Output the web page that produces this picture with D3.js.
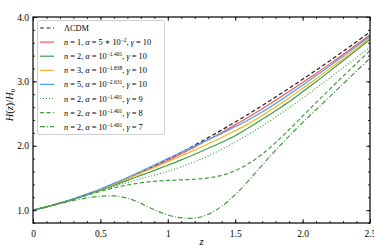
<!DOCTYPE html>
<html>
<head>
<meta charset="utf-8">
<script src="https://cdn.jsdelivr.net/npm/d3@7"></script>
<style>
  body { margin: 0; background: #fff; }
  svg { display: block; font-family: "Liberation Serif", "DejaVu Serif", serif; }
</style>
</head>
<body>
<div id="chart"></div>
<script>
// redshift grid shared by every curve
var zs = [0, 0.1, 0.2, 0.3, 0.4, 0.5, 0.6, 0.7, 0.8, 0.9, 1.0, 1.1, 1.2,
          1.3, 1.4, 1.5, 1.6, 1.7, 1.8, 1.9, 2.0, 2.1, 2.2, 2.3, 2.4, 2.5];

// H(z)/H0
var lcdm   = [1.000, 1.051, 1.109, 1.173, 1.245, 1.322, 1.405, 1.494, 1.588, 1.687, 1.790, 1.898, 2.010,
              2.126, 2.245, 2.368, 2.494, 2.624, 2.757, 2.893, 3.032, 3.173, 3.318, 3.465, 3.615, 3.767];
var n1g10  = [1.000, 1.051, 1.109, 1.173, 1.244, 1.320, 1.400, 1.487, 1.578, 1.673, 1.772, 1.876, 1.982,
              2.093, 2.206, 2.324, 2.446, 2.575, 2.707, 2.843, 2.982, 3.124, 3.268, 3.417, 3.570, 3.722];
var n2g10  = [1.000, 1.050, 1.107, 1.169, 1.237, 1.310, 1.385, 1.462, 1.540, 1.617, 1.697, 1.780, 1.868,
              1.960, 2.055, 2.155, 2.280, 2.410, 2.545, 2.685, 2.838, 2.995, 3.155, 3.320, 3.485, 3.650];
var n3g10  = [1.000, 1.051, 1.109, 1.172, 1.243, 1.320, 1.403, 1.488, 1.576, 1.663, 1.752, 1.843, 1.935,
              2.030, 2.128, 2.232, 2.344, 2.470, 2.605, 2.743, 2.890, 3.040, 3.195, 3.350, 3.510, 3.675];
var n5g10  = [1.000, 1.052, 1.111, 1.176, 1.249, 1.329, 1.415, 1.507, 1.603, 1.700, 1.800, 1.900, 1.995,
              2.095, 2.190, 2.295, 2.405, 2.525, 2.657, 2.796, 2.940, 3.088, 3.238, 3.391, 3.545, 3.702];
var n2g9   = [1.000, 1.051, 1.108, 1.170, 1.238, 1.305, 1.368, 1.428, 1.486, 1.544, 1.604, 1.672, 1.752,
              1.843, 1.945, 2.057, 2.178, 2.308, 2.446, 2.590, 2.740, 2.893, 3.050, 3.210, 3.370, 3.530];
var n2g8   = [1.000, 1.051, 1.108, 1.168, 1.232, 1.292, 1.345, 1.390, 1.424, 1.447, 1.461, 1.470, 1.480,
              1.500, 1.540, 1.612, 1.725, 1.870, 2.050, 2.250, 2.460, 2.670, 2.875, 3.080, 3.280, 3.480];
var n2g7   = [1.000, 1.050, 1.102, 1.150, 1.190, 1.215, 1.220, 1.185, 1.105, 1.005, 0.925, 0.880, 0.875,
              0.935, 1.060, 1.240, 1.460, 1.700, 1.930, 2.150, 2.360, 2.560, 2.760, 2.960, 3.160, 3.360];

var xTicks = [0, 0.5, 1, 1.5, 2.0, 2.5];
var xTickLabels = ["0", "0.5", "1", "1.5", "2.0", "2.5"];
var yTicks = [1.0, 2.0, 3.0, 4.0];
var yTickLabels = ["1.0", "2.0", "3.0", "4.0"];

// legend label pieces: [text, italic?, superscript?]
var series = [
  {values: lcdm,  color: "#222", dash: "4,2.5",
   label: [["ΛCDM", false, false]]},
  {values: n1g10, color: "#ff5252", dash: null,
   label: [["n", true], [" = 1, ", false], ["α", true], [" = 5 ∗ 10", false], ["−2", false, true], [", ", false], ["γ", true], [" = 10", false]]},
  {values: n2g10, color: "#3e9e3e", dash: null,
   label: [["n", true], [" = 2, ", false], ["α", true], [" = 10", false], ["−1.401", false, true], [", ", false], ["γ", true], [" = 10", false]]},
  {values: n3g10, color: "#ffb020", dash: null,
   label: [["n", true], [" = 3, ", false], ["α", true], [" = 10", false], ["−1.838", false, true], [", ", false], ["γ", true], [" = 10", false]]},
  {values: n5g10, color: "#46a0ff", dash: null,
   label: [["n", true], [" = 5, ", false], ["α", true], [" = 10", false], ["−2.631", false, true], [", ", false], ["γ", true], [" = 10", false]]},
  {values: n2g9,  color: "#3e9e3e", dash: "1,2",
   label: [["n", true], [" = 2, ", false], ["α", true], [" = 10", false], ["−1.401", false, true], [", ", false], ["γ", true], [" = 9", false]]},
  {values: n2g8,  color: "#3e9e3e", dash: "4,2.5",
   label: [["n", true], [" = 2, ", false], ["α", true], [" = 10", false], ["−1.401", false, true], [", ", false], ["γ", true], [" = 8", false]]},
  {values: n2g7,  color: "#3e9e3e", dash: "5,2,1,2",
   label: [["n", true], [" = 2, ", false], ["α", true], [" = 10", false], ["−1.401", false, true], [", ", false], ["γ", true], [" = 7", false]]}
];

var W = 374, H = 249;
var margin = {left: 33, right: 4, top: 17, bottom: 26};

var svg = d3.select("#chart").append("svg")
    .attr("width", W).attr("height", H);

var x = d3.scaleLinear().domain([0, 2.5]).range([margin.left, W - margin.right]);
var y = d3.scaleLinear().domain([0.8, 4.0]).range([H - margin.bottom, margin.top]);

// curves
var line = d3.line()
    .x(function(d) { return x(d[0]); })
    .y(function(d) { return y(d[1]); })
    .curve(d3.curveCatmullRom);

svg.append("defs").append("clipPath").attr("id", "plotclip")
  .append("rect")
    .attr("x", x(0)).attr("y", y(4.0))
    .attr("width", x(2.5) - x(0)).attr("height", y(0.8) - y(4.0));

var curves = svg.append("g").attr("clip-path", "url(#plotclip)");
series.forEach(function(s) {
  curves.append("path")
      .datum(d3.zip(zs, s.values))
      .attr("d", line)
      .attr("fill", "none")
      .attr("stroke", s.color)
      .attr("stroke-width", 1.2)
      .attr("stroke-dasharray", s.dash);
});

// axes with inward ticks on all four sides
var xMinor = d3.range(0, 2.501, 0.1);
var yMinor = d3.range(0.8, 4.001, 0.2);

function styleAxis(g) {
  g.select(".domain").remove();
  g.selectAll(".tick line").attr("stroke", "#000").attr("stroke-width", 0.8);
  g.selectAll(".tick text").attr("font-size", 9.5).attr("fill", "#000")
      .attr("font-family", "Liberation Serif, DejaVu Serif, serif");
}

svg.append("g").attr("transform", "translate(0," + y(0.8) + ")")
    .call(d3.axisBottom(x).tickValues(xMinor).tickSize(-2).tickFormat(""))
    .call(styleAxis);
svg.append("g").attr("transform", "translate(0," + y(0.8) + ")")
    .call(d3.axisBottom(x).tickValues(xTicks).tickSize(-4).tickPadding(7)
          .tickFormat(function(d, i) { return xTickLabels[i]; }))
    .call(styleAxis);
svg.append("g").attr("transform", "translate(0," + y(4.0) + ")")
    .call(d3.axisTop(x).tickValues(xMinor).tickSize(-2).tickFormat(""))
    .call(styleAxis);
svg.append("g").attr("transform", "translate(0," + y(4.0) + ")")
    .call(d3.axisTop(x).tickValues(xTicks).tickSize(-4).tickFormat(""))
    .call(styleAxis);

svg.append("g").attr("transform", "translate(" + x(0) + ",0)")
    .call(d3.axisLeft(y).tickValues(yMinor).tickSize(-2).tickFormat(""))
    .call(styleAxis);
svg.append("g").attr("transform", "translate(" + x(0) + ",0)")
    .call(d3.axisLeft(y).tickValues(yTicks).tickSize(-4).tickPadding(4)
          .tickFormat(function(d, i) { return yTickLabels[i]; }))
    .call(styleAxis);
svg.append("g").attr("transform", "translate(" + x(2.5) + ",0)")
    .call(d3.axisRight(y).tickValues(yMinor).tickSize(-2).tickFormat(""))
    .call(styleAxis);
svg.append("g").attr("transform", "translate(" + x(2.5) + ",0)")
    .call(d3.axisRight(y).tickValues(yTicks).tickSize(-4).tickFormat(""))
    .call(styleAxis);

// frame
svg.append("rect")
    .attr("x", x(0)).attr("y", y(4.0))
    .attr("width", x(2.5) - x(0)).attr("height", y(0.8) - y(4.0))
    .attr("fill", "none").attr("stroke", "#000").attr("stroke-width", 1.2);

// axis titles
svg.append("text")
    .attr("x", (x(0) + x(2.5)) / 2).attr("y", H - 4)
    .attr("text-anchor", "middle").attr("font-size", 10.5)
    .attr("font-style", "italic").text("z");

var ylab = svg.append("text")
    .attr("transform", "translate(13,105) rotate(-90)")
    .attr("text-anchor", "middle").attr("font-size", 10.5);
ylab.append("tspan").attr("font-style", "italic").text("H");
ylab.append("tspan").text("(");
ylab.append("tspan").attr("font-style", "italic").text("z");
ylab.append("tspan").text(")/");
ylab.append("tspan").attr("font-style", "italic").text("H");
ylab.append("tspan").attr("font-size", 7).attr("dy", 2).text("0");

// legend
var legend = svg.append("g");
legend.append("rect")
    .attr("x", 37.5).attr("y", 20.5).attr("width", 127).attr("height", 114)
    .attr("rx", 2).attr("fill", "#fff").attr("stroke", "#d0d0d0").attr("stroke-width", 1);

series.forEach(function(s, i) {
  var ry = 28 + i * 14.1;
  legend.append("line")
      .attr("x1", 40).attr("x2", 54).attr("y1", ry).attr("y2", ry)
      .attr("stroke", s.color).attr("stroke-width", 1.2)
      .attr("stroke-dasharray", s.dash);
  var t = legend.append("text").attr("x", 64).attr("y", ry + 3).attr("font-size", 8.3);
  var raised = false;
  s.label.forEach(function(p) {
    var ts = t.append("tspan").text(p[0]);
    if (p[1]) ts.attr("font-style", "italic");
    if (p[2]) {
      ts.attr("font-size", 5.5).attr("dy", -3);
      raised = true;
    } else if (raised) {
      ts.attr("dy", 3);
      raised = false;
    }
  });
});
</script>
</body>
</html>
